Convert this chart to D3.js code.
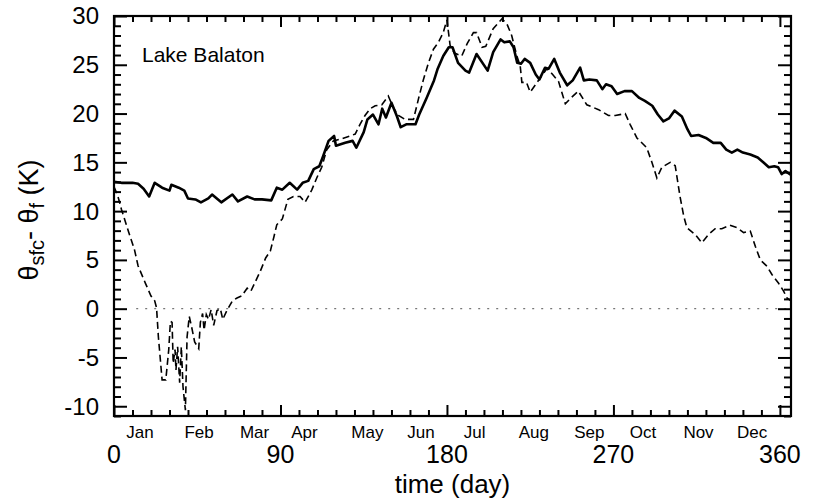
<!DOCTYPE html>
<html>
<head>
<meta charset="utf-8">
<script src="https://cdn.jsdelivr.net/npm/d3@7"></script>
<style>
  body { margin: 0; background: #fff; }
  svg { display: block; font-family: "Liberation Sans", Arial, Helvetica, sans-serif; }
  .axis path { display: none; }
  .axis line { stroke: #000; stroke-width: 2; }
</style>
</head>
<body>
<svg></svg>
<script>
const WIDTH = 813;
const HEIGHT = 502;

// solid curve (day, K)
const solidDay = [0, 4, 10, 13, 16, 19, 22, 26, 30, 31, 35, 38, 40, 44, 47, 51, 53, 58, 64, 67,
  72, 76, 80, 85, 88, 91, 95, 99, 102, 105, 108, 111, 113, 116, 119, 120, 125, 129, 131, 135,
  137, 140, 143, 145, 147, 150, 153, 155, 158, 163, 165, 169, 173, 175, 178, 181, 183, 186, 190, 192,
  196, 202, 205, 209, 211, 214, 216, 218, 220, 222, 225, 228, 230, 233, 235, 238, 241, 245, 248, 252,
  254, 257, 261, 264, 266, 269, 272, 276, 280, 284, 287, 291, 294, 297, 300, 303, 307, 310, 312, 316,
  320, 324, 328, 331, 334, 337, 340, 344, 348, 351, 354, 357, 359, 361, 363, 366];
const solidVal = [13.0, 12.9, 12.9, 12.8, 12.3, 11.5, 12.9, 12.4, 12.1, 12.7, 12.4, 12.1, 11.3, 11.2, 10.9, 11.3, 11.7, 10.9, 11.7, 11.0,
  11.5, 11.2, 11.2, 11.1, 12.4, 12.2, 12.9, 12.2, 12.9, 13.1, 14.3, 14.6, 15.6, 17.2, 17.7, 16.7, 17.0, 17.2, 16.5, 18.1,
  19.4, 19.9, 18.9, 20.5, 19.6, 21.1, 19.7, 18.6, 18.9, 18.9, 19.9, 21.6, 23.4, 24.6, 25.9, 26.8, 26.8, 25.2, 24.4, 24.2,
  26.1, 24.4, 26.3, 27.6, 27.3, 27.4, 26.8, 25.2, 25.1, 25.6, 25.2, 24.0, 23.5, 24.7, 24.6, 25.6, 24.2, 22.9, 23.4, 24.7,
  23.4, 23.5, 23.4, 22.5, 23.0, 22.8, 22.0, 22.3, 22.3, 21.6, 21.3, 20.8, 19.9, 19.2, 19.5, 20.3, 19.7, 18.4, 17.7, 17.8,
  17.5, 17.0, 17.0, 16.3, 16.0, 16.3, 16.0, 15.8, 15.5, 15.0, 14.5, 14.6, 14.5, 13.8, 14.1, 13.7];

// dashed curve (day, K)
const dashDay = [0, 2, 4, 8, 11, 13, 17, 20, 22, 23, 24, 26, 28, 29.6, 30.5, 31.4, 32, 33, 33.5, 34.4,
  35.5, 36.4, 37.3, 38.6, 39.5, 40.7, 42, 43.6, 45.8, 46.7, 47.9, 48.7, 49.9, 51.1, 52.5, 53.9, 55.7, 57.5, 58.8, 61,
  64, 66.5, 69, 72, 74, 76, 79, 82, 84.5, 86.5, 88, 91, 94, 97, 100.6, 103.3, 107, 109.6, 112.3, 115,
  118.6, 123, 127.6, 130.4, 133, 135.7, 138.5, 141.2, 144.8, 148.3, 151, 153.8, 157.4, 161.9, 164.6, 167.3, 170, 172.7, 175.4, 178,
  180, 181.7, 184, 188, 191, 194.3, 196, 199, 201, 205, 209.7, 212.4, 215, 217.8, 219.6, 220.5, 223, 225, 228, 231.3,
  234, 236.7, 240.3, 244, 247, 251, 255.6, 262, 267.3, 271, 276.4, 279, 282.7, 288, 290.8, 293.5, 296.2, 300.7, 303.4, 306,
  308, 309.7, 314.2, 317.8, 321.4, 325, 328.6, 333, 336.8, 340.4, 344, 346.7, 349.4, 353, 355.7, 359.3, 362, 363.8, 366];
const dashVal = [12.5, 11.6, 10.2, 7.8, 6.1, 4.4, 2.6, 1.3, 0.8, 0.1, -2.9, -7.3, -7.3, -4.2, -1.3, -1.4, -5.6, -4.2, -6.3, -3.9,
  -7.6, -3.9, -8.0, -10.4, -2.9, -0.8, -1.9, -3.4, -4.1, -1.4, -0.5, -2.2, -0.6, -1.1, -0.1, -1.7, -0.2, 0.0, -1.1, -0.2,
  0.8, 1.1, 1.3, 2.1, 1.8, 2.6, 3.8, 5.2, 5.9, 7.4, 8.6, 9.2, 11.2, 11.5, 11.5, 10.9, 12.2, 13.4, 14.5, 16.3,
  17.2, 17.4, 17.7, 17.9, 18.9, 19.8, 20.5, 20.8, 20.9, 21.8, 20.6, 19.8, 19.4, 19.4, 21.5, 23.5, 25.2, 26.6, 27.3, 28.3,
  29.6, 27.0, 26.2, 25.9, 27.2, 28.3, 28.3, 26.8, 26.9, 28.7, 29.7, 29.2, 28.0, 25.9, 24.9, 23.2, 23.2, 22.2, 23.0, 23.9,
  24.6, 24.1, 23.3, 21.0, 21.6, 22.3, 20.9, 20.4, 19.8, 19.8, 20.0, 18.9, 17.5, 16.5, 15.0, 13.4, 14.5, 15.0, 14.65, 11.5,
  9.5, 8.3, 7.6, 6.75, 7.6, 8.2, 8.2, 8.55, 8.3, 7.8, 7.95, 6.4, 5.0, 4.35, 3.5, 2.6, 1.8, 1.1, 0.8];

const xMajor = [0, 90, 180, 270, 360];
const yMajor = [-10, -5, 0, 5, 10, 15, 20, 25, 30];
const months = ['Jan', 'Feb', 'Mar', 'Apr', 'May', 'Jun', 'Jul', 'Aug', 'Sep', 'Oct', 'Nov', 'Dec'];
const monthDay = [14, 46, 76, 103, 137, 166, 195, 227, 257, 286, 316, 345];

const margin = {top: 16, right: 22, bottom: 86, left: 114};
const w = WIDTH - margin.left - margin.right;
const h = HEIGHT - margin.top - margin.bottom;

const x = d3.scaleLinear().domain([0, 366]).range([0, w]);
const y = d3.scaleLinear().domain([-11, 30]).range([h, 0]);

const svg = d3.select('svg')
    .attr('width', WIDTH)
    .attr('height', HEIGHT);
const g = svg.append('g')
    .attr('transform', `translate(${margin.left},${margin.top})`);

// zero reference line
g.append('line')
    .attr('x1', x(12)).attr('x2', w)
    .attr('y1', y(0)).attr('y2', y(0))
    .attr('stroke', '#777')
    .attr('stroke-width', 1.2)
    .attr('stroke-dasharray', '2,7');

const solid = d3.zip(solidDay, solidVal);
const dashed = d3.zip(dashDay, dashVal);
const line = d3.line().x((d) => x(d[0])).y((d) => y(d[1]));

g.append('path')
    .datum(dashed)
    .attr('fill', 'none')
    .attr('stroke', '#000')
    .attr('stroke-width', 1.6)
    .attr('stroke-dasharray', '7,4')
    .attr('d', line);

g.append('path')
    .datum(solid)
    .attr('fill', 'none')
    .attr('stroke', '#000')
    .attr('stroke-width', 2.6)
    .attr('stroke-linejoin', 'round')
    .attr('d', line);

// inward ticks on all four sides
const xMinor = d3.range(0, 367, 10).filter((d) => !xMajor.includes(d));
const yMinor = d3.range(-11, 31, 1).filter((d) => !yMajor.includes(d));
const noLabel = () => '';

const addAxis = (axis, tx, ty) => g.append('g')
    .attr('class', 'axis')
    .attr('transform', `translate(${tx},${ty})`)
    .call(axis);

addAxis(d3.axisBottom(x).tickValues(xMinor).tickSize(-6).tickFormat(noLabel), 0, h);
addAxis(d3.axisBottom(x).tickValues(xMajor).tickSize(-11).tickFormat(noLabel), 0, h);
addAxis(d3.axisTop(x).tickValues(xMinor).tickSize(-6).tickFormat(noLabel), 0, 0);
addAxis(d3.axisTop(x).tickValues(xMajor).tickSize(-11).tickFormat(noLabel), 0, 0);
addAxis(d3.axisLeft(y).tickValues(yMinor).tickSize(-7).tickFormat(noLabel), 0, 0);
addAxis(d3.axisLeft(y).tickValues(yMajor).tickSize(-13).tickFormat(noLabel), 0, 0);
addAxis(d3.axisRight(y).tickValues(yMinor).tickSize(-7).tickFormat(noLabel), w, 0);
addAxis(d3.axisRight(y).tickValues(yMajor).tickSize(-13).tickFormat(noLabel), w, 0);

g.append('rect')
    .attr('width', w).attr('height', h)
    .attr('fill', 'none')
    .attr('stroke', '#000')
    .attr('stroke-width', 2.2);

// labels
g.selectAll('.ylab')
    .data(yMajor)
  .enter().append('text')
    .attr('x', -15)
    .attr('y', (d) => y(d))
    .attr('dy', '0.35em')
    .attr('text-anchor', 'end')
    .attr('font-size', 24)
    .text((d) => d);

g.selectAll('.xlab')
    .data(xMajor)
  .enter().append('text')
    .attr('x', (d) => x(d))
    .attr('y', h + 47)
    .attr('text-anchor', 'middle')
    .attr('font-size', 25)
    .text((d) => d);

g.selectAll('.month')
    .data(months)
  .enter().append('text')
    .attr('x', (d, i) => x(monthDay[i]))
    .attr('y', h + 22)
    .attr('text-anchor', 'middle')
    .attr('font-size', 17)
    .text((d) => d);

svg.append('text')
    .attr('x', margin.left + x(183))
    .attr('y', 493)
    .attr('text-anchor', 'middle')
    .attr('font-size', 26)
    .text('time (day)');

const yt = svg.append('text')
    .attr('transform', 'translate(38,220) rotate(-90)')
    .attr('text-anchor', 'middle')
    .attr('font-size', 27);
yt.append('tspan').text('θ');
yt.append('tspan').attr('font-size', 20).attr('dy', 6).text('sfc');
yt.append('tspan').attr('dy', -6).text('- θ');
yt.append('tspan').attr('font-size', 20).attr('dy', 6).text('f');
yt.append('tspan').attr('dy', -6).text(' (K)');

g.append('text')
    .attr('x', 28)
    .attr('y', 46)
    .attr('font-size', 21)
    .text('Lake Balaton');
</script>
</body>
</html>
